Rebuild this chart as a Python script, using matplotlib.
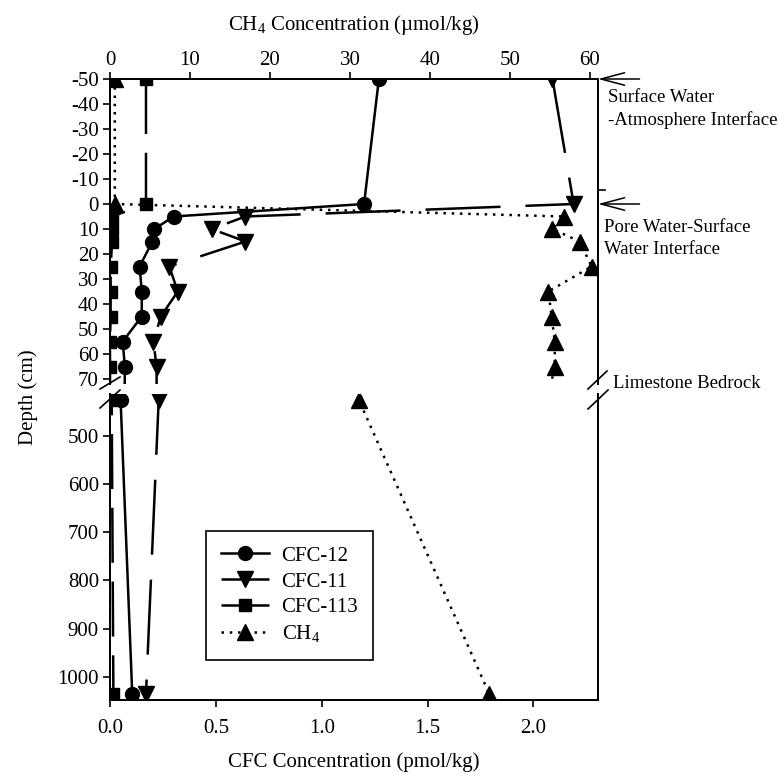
import matplotlib
matplotlib.use("Agg")
import matplotlib.pyplot as plt
from matplotlib.lines import Line2D

plt.rcParams["font.family"] = ["Liberation Serif", "DejaVu Serif"]
plt.rcParams["mathtext.fontset"] = "custom"
plt.rcParams["mathtext.rm"] = "Liberation Serif"
plt.rcParams["axes.unicode_minus"] = False

# depth of each sample (cm); -50 = surface water, 0 = sediment surface
depth = [-50, 0, 5, 10, 15, 25, 35, 45, 55, 65, 425, 1035]
cfc12 = [1.27, 1.20, 0.30, 0.21, 0.20, 0.14, 0.15, 0.15, 0.06, 0.07, 0.05, 0.105]
cfc11 = [2.09, 2.19, 0.64, 0.48, 0.64, 0.28, 0.32, 0.24, 0.205, 0.22, 0.23, 0.17]
cfc113 = [0.17, 0.17, 0.01, 0.01, 0.01, 0.003, 0.003, 0.003, 0.0, 0.0, 0.008, 0.016]
ch4 = [0.6, 0.6, 56.7, 55.3, 58.7, 60.2, 54.8, 55.2, 55.6, 55.6, 31.1, 47.4]

top_yticks = [-50, -40, -30, -20, -10, 0, 10, 20, 30, 40, 50, 60, 70]
bot_yticks = [500, 600, 700, 800, 900, 1000]
cfc_xticks = [0.0, 0.5, 1.0, 1.5, 2.0]
ch4_xticks = [0, 10, 20, 30, 40, 50, 60]

W, H = 779, 774
FS = 15
LW = 1.8

fig = plt.figure(figsize=(W / 100, H / 100), dpi=100)


def fx(px):
    return px / W


def fy(py):
    return 1 - py / H


x0, x1 = 110, 598
ax_top = fig.add_axes([fx(x0), fy(384), fx(x1) - fx(x0), fy(79) - fy(384)])
ax_bot = fig.add_axes([fx(x0), fy(700), fx(x1) - fx(x0), fy(394) - fy(700)])
ax_top_ch4 = ax_top.twiny()
ax_bot_ch4 = ax_bot.twiny()

styles = dict(
    cfc12=dict(color="black", lw=LW, marker="o", ms=10, ls="-"),
    cfc11=dict(color="black", lw=LW, marker="v", ms=11, ls=(0, (30, 10))),
    cfc113=dict(color="black", lw=LW, marker="s", ms=9, ls=(0, (22, 7.5))),
    ch4=dict(color="black", lw=LW, marker="^", ms=11, ls=(0, (1, 2.3))),
)

for ax, ax2 in [(ax_top, ax_top_ch4), (ax_bot, ax_bot_ch4)]:
    h12, = ax.plot(cfc12, depth, label="CFC-12", **styles["cfc12"])
    h11, = ax.plot(cfc11, depth, label="CFC-11", **styles["cfc11"])
    h113, = ax.plot(cfc113, depth, label="CFC-113", **styles["cfc113"])
    hch4, = ax2.plot(ch4, depth, label="CH$_4$", **styles["ch4"])
    ax.set_xlim(0, 2.305)
    ax2.set_xlim(0, 61)
    for a in (ax, ax2):
        for s in a.spines.values():
            s.set_linewidth(1.3)

# top panel
ax_top.set_ylim(72, -50)
ax_top.set_yticks(top_yticks)
ax_top.tick_params(axis="x", which="both", bottom=False, labelbottom=False)
ax_top.spines["bottom"].set_visible(False)
ax_top_ch4.spines["bottom"].set_visible(False)
ax_top_ch4.set_xticks(ch4_xticks)
ax_top_ch4.tick_params(axis="x", direction="out", length=5, width=1.2,
                       labelsize=FS, pad=1.5)
ax_top_ch4.set_xlabel("CH$\\mathregular{_4}$ Concentration (\u00b5mol/kg)",
                      fontsize=FS, labelpad=15)

# bottom panel
ax_bot.set_ylim(1048, 413)
ax_bot.set_yticks(bot_yticks)
ax_bot.set_xticks(cfc_xticks)
ax_bot.xaxis.set_major_formatter(matplotlib.ticker.FormatStrFormatter("%.1f"))
ax_bot.tick_params(axis="x", direction="out", length=5, width=1.2,
                   labelsize=FS, pad=9)
ax_bot.set_xlabel("CFC Concentration (pmol/kg)", fontsize=FS, labelpad=10)
ax_bot.spines["top"].set_visible(False)
ax_bot_ch4.spines["top"].set_visible(False)
ax_bot_ch4.tick_params(axis="x", which="both", top=False, labeltop=False)

for ax in (ax_top, ax_bot):
    ax.tick_params(axis="y", direction="out", length=5, width=1.2,
                   labelsize=FS, pad=3)

fig.text(fx(28), fy(397), "Depth (cm)", rotation=90, fontsize=FS,
         ha="center", va="center")

# legend
leg = ax_bot.legend(handles=[h12, h11, h113, hch4], loc="upper left",
                    bbox_to_anchor=(0.197, 0.552), borderaxespad=0,
                    fontsize=FS, frameon=True, fancybox=False,
                    edgecolor="black", framealpha=1, handlelength=2.3,
                    handletextpad=0.6, labelspacing=0.3, borderpad=0.72)
leg.get_frame().set_linewidth(1.2)

# axis break marks
for (xa, ya, xb, yb) in [(100, 389, 120, 377), (100, 408, 120, 390),
                         (588, 389, 607, 371), (588, 409, 608, 390)]:
    fig.add_artist(Line2D([fx(xa), fx(xb)], [fy(ya), fy(yb)],
                          transform=fig.transFigure, color="black", lw=1.2))

# small stray tick on right spine
ax_top.plot([1.0, 1.015], [-5.5, -5.5], color="black", lw=1.2,
            transform=ax_top.get_yaxis_transform(), clip_on=False)

# interface arrows and notes
for yv in (-50, 0):
    ax_top.annotate("", xy=(1.0, yv), xytext=(1.085, yv),
                    xycoords=ax_top.get_yaxis_transform(),
                    textcoords=ax_top.get_yaxis_transform(),
                    arrowprops=dict(arrowstyle="->,head_length=1.7,head_width=0.45",
                                    lw=1.1, color="black", shrinkA=0, shrinkB=0))

NS = 13.5
fig.text(fx(608), fy(98), "Surface Water", fontsize=NS, va="center")
fig.text(fx(608), fy(120), "-Atmosphere Interface", fontsize=NS, va="center")
fig.text(fx(604), fy(227), "Pore Water-Surface", fontsize=NS, va="center")
fig.text(fx(604), fy(249), "Water Interface", fontsize=NS, va="center")
fig.text(fx(613), fy(383), "Limestone Bedrock", fontsize=NS, va="center")

fig.savefig("out.png", dpi=100, facecolor="white")
